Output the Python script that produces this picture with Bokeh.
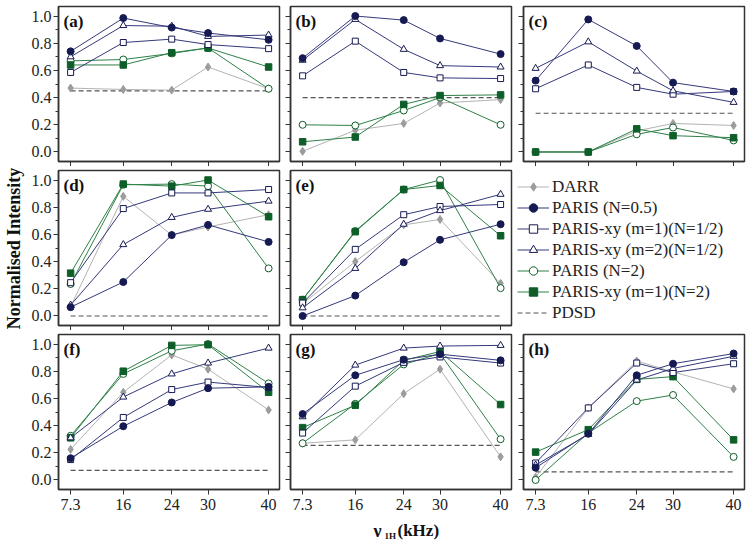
import math
from bokeh.plotting import figure
from bokeh.models import Range1d, FixedTicker, Legend, LegendItem, Label, PrintfTickFormatter
from bokeh.layouts import row, column
from bokeh.embed import file_html
from bokeh.resources import INLINE

# ---------------- data ----------------
freq = [7.3, 16, 24, 30, 40]
freq_labels = ["7.3", "16", "24", "30", "40"]
panel_labels = ["(a)", "(b)", "(c)", "(d)", "(e)", "(f)", "(g)", "(h)"]
y_ticks = [0.0, 0.2, 0.4, 0.6, 0.8, 1.0]
y_minor = [0.1, 0.3, 0.5, 0.7, 0.9]

# one row of five values per panel (a)..(h)
darr = [
    [0.47, 0.46, 0.455, 0.625, 0.465],
    [0.005, 0.16, 0.21, 0.36, 0.385],
    [0.0, 0.0, 0.155, 0.21, 0.195],
    [0.07, 0.88, 0.595, 0.655, 0.745],
    [0.09, 0.40, 0.67, 0.71, 0.24],
    [0.225, 0.645, 0.92, 0.815, 0.515],
    [0.27, 0.295, 0.635, 0.815, 0.17],
    [0.02, 0.53, 0.875, 0.795, 0.67],
]
paris_05 = [
    [0.74, 0.985, 0.915, 0.875, 0.825],
    [0.69, 1.0, 0.97, 0.835, 0.72],
    [0.525, 0.975, 0.78, 0.51, 0.445],
    [0.065, 0.25, 0.595, 0.67, 0.545],
    [0.0, 0.15, 0.395, 0.56, 0.675],
    [0.16, 0.395, 0.57, 0.675, 0.685],
    [0.485, 0.77, 0.885, 0.925, 0.88],
    [0.09, 0.34, 0.77, 0.855, 0.93],
]
xy_m1_half = [
    [0.585, 0.805, 0.83, 0.79, 0.76],
    [0.56, 0.815, 0.585, 0.545, 0.54],
    [0.465, 0.64, 0.475, 0.425, 0.445],
    [0.245, 0.79, 0.905, 0.905, 0.93],
    [0.095, 0.49, 0.745, 0.805, 0.82],
    [0.15, 0.46, 0.665, 0.72, 0.68],
    [0.345, 0.69, 0.865, 0.905, 0.86],
    [0.125, 0.53, 0.86, 0.79, 0.855],
]
xy_m2_half = [
    [0.70, 0.93, 0.925, 0.85, 0.86],
    [0.675, 0.975, 0.755, 0.635, 0.625],
    [0.615, 0.81, 0.595, 0.45, 0.365],
    [0.08, 0.525, 0.725, 0.785, 0.845],
    [0.06, 0.35, 0.675, 0.775, 0.895],
    [0.31, 0.61, 0.78, 0.86, 0.97],
    [0.465, 0.845, 0.97, 0.985, 0.99],
    [0.11, 0.335, 0.735, 0.82, 0.91],
]
paris_2 = [
    [0.67, 0.68, 0.725, 0.765, 0.465],
    [0.20, 0.195, 0.305, 0.40, 0.20],
    [0.0, 0.0, 0.13, 0.18, 0.085],
    [0.235, 0.965, 0.97, 0.955, 0.35],
    [0.12, 0.625, 0.93, 1.0, 0.205],
    [0.325, 0.78, 0.95, 1.0, 0.71],
    [0.27, 0.56, 0.85, 0.93, 0.30],
    [0.0, 0.345, 0.58, 0.625, 0.17],
]
xy_m1_2 = [
    [0.64, 0.64, 0.73, 0.765, 0.625],
    [0.075, 0.11, 0.35, 0.415, 0.42],
    [0.0, 0.0, 0.17, 0.12, 0.105],
    [0.315, 0.97, 0.955, 1.0, 0.73],
    [0.12, 0.62, 0.93, 0.96, 0.59],
    [0.31, 0.80, 0.99, 0.995, 0.645],
    [0.385, 0.55, 0.88, 0.945, 0.555],
    [0.205, 0.37, 0.74, 0.76, 0.295],
]
pdsd = [0.45, 0.40, 0.285, 0.0, 0.0, 0.07, 0.255, 0.06]

# ---------------- styles ----------------
FONT = "Liberation Serif"
NAVY_L = "#34397a"
NAVY_M = "#161a52"
GREEN_L = "#2f8048"
GREEN_M = "#0e5e29"
GREY_L = "#b3b3b3"
GREY_M = "#9c9c9c"
FRAME = "#333333"

# (legend label, data, marker, size, fill, marker line, line color)
series = [
    ("DARR", darr, "diamond", 8, GREY_M, GREY_M, GREY_L),
    ("PARIS (N=0.5)", paris_05, "circle", 7, NAVY_M, NAVY_M, NAVY_L),
    ("PARIS-xy (m=1)(N=1/2)", xy_m1_half, "square", 6, "white", NAVY_M, NAVY_L),
    ("PARIS-xy (m=2)(N=1/2)", xy_m2_half, "triangle", 7, "white", NAVY_M, NAVY_L),
    ("PARIS (N=2)", paris_2, "circle", 7, "white", GREEN_M, GREEN_L),
    ("PARIS-xy (m=1)(N=2)", xy_m1_2, "square", 6.5, GREEN_M, GREEN_M, GREEN_L),
]
draw_order = [0, 4, 5, 2, 3, 1]

FW, FH = 221, 155


def make_panel(i, col, rw):
    left = 29 if col == 0 else 6
    right = 5 if col == 0 else (6 if col == 1 else 4)
    top = 6 if rw == 0 else 4
    bottom = 27 if rw == 2 else 5
    p = figure(frame_width=FW, frame_height=FH,
               min_border_left=left, min_border_right=right,
               min_border_top=top, min_border_bottom=bottom,
               x_range=Range1d(5.3, 41.8), y_range=Range1d(-0.07, 1.07),
               output_backend="svg", toolbar_location=None)
    p.outline_line_color = FRAME
    p.outline_line_width = 1.5
    p.grid.visible = False
    p.background_fill_color = "white"
    p.border_fill_color = "white"

    xa = p.xaxis[0]
    xa.ticker = FixedTicker(ticks=freq)
    xa.major_label_overrides = {f: l for f, l in zip(freq, freq_labels)}
    xa.major_tick_in = 0
    xa.major_tick_out = 5
    xa.major_label_standoff = 4
    ya = p.yaxis[0]
    ya.ticker = FixedTicker(ticks=y_ticks, minor_ticks=y_minor)
    ya.formatter = PrintfTickFormatter(format="%.1f")
    ya.major_tick_in = 0
    ya.major_tick_out = 5
    ya.minor_tick_in = 0
    ya.minor_tick_out = 3
    ya.major_label_standoff = 2
    for ax in (xa, ya):
        ax.axis_line_color = FRAME
        ax.axis_line_width = 1.5
        ax.major_tick_line_color = FRAME
        ax.minor_tick_line_color = FRAME if ax is ya else None
        ax.major_label_text_font = FONT
        ax.major_label_text_font_size = "16px"
        ax.major_label_text_color = "#222222"
    if rw != 2:
        xa.major_label_text_font_size = "0px"
        xa.major_label_text_color = None
        xa.major_label_standoff = 0
    if col != 0:
        ya.major_label_text_font_size = "0px"
        ya.major_label_text_color = None
        ya.major_label_standoff = 0

    renderers = {}
    pd_r = p.line([freq[0], freq[-1]], [pdsd[i], pdsd[i]], line_color="#555555",
                  line_dash="5 3", line_width=1.2)
    for k in draw_order:
        name, data, marker, size, fill, mline, lcol = series[k]
        lr = p.line(freq, data[i], line_color=lcol, line_width=1)
        sr = p.scatter(freq, data[i], marker=marker, size=size, fill_color=fill,
                       line_color=mline, line_width=1)
        renderers[k] = (lr, sr)

    p.add_layout(Label(x=5, y=FH - 5, x_units="screen", y_units="screen",
                       text=panel_labels[i], text_font=FONT, text_font_style="bold",
                       text_font_size="17px", text_baseline="top", text_color="#111111"))
    return p, renderers, pd_r


figs = []
layout_pos = [(0, 0), (1, 0), (2, 0), (0, 1), (1, 1), (0, 2), (1, 2), (2, 2)]
legend_src = None
for i, (c, r) in enumerate(layout_pos):
    p, rend, pd_r = make_panel(i, c, r)
    figs.append(p)
    if i == 4:
        legend_src = (p, rend, pd_r)

pe, rend, pd_r = legend_src
items = [LegendItem(label=series[k][0], renderers=list(rend[k])) for k in range(6)]
items.append(LegendItem(label="PDSD", renderers=[pd_r]))
legend = Legend(items=items, location="top_left", margin=6, padding=8,
                spacing=0, glyph_width=32, glyph_height=21, label_height=21,
                label_standoff=3, label_text_font=FONT, label_text_font_size="17px",
                label_text_color="#222222", border_line_color=None,
                background_fill_alpha=0)
pe.add_layout(legend, "right")

TOTAL_H = 544
# y-axis title strip
yfig = figure(frame_width=28, frame_height=TOTAL_H, min_border=0,
              x_axis_type=None, y_axis_type=None, output_backend="svg",
              toolbar_location=None, x_range=Range1d(0, 1), y_range=Range1d(0, 1))
yfig.outline_line_color = None
yfig.grid.visible = False
yfig.add_layout(Label(x=13, y=TOTAL_H - 248, x_units="screen", y_units="screen",
                      text="Normalised Intensity", angle=math.pi / 2,
                      text_align="center", text_baseline="middle", text_font=FONT,
                      text_font_style="bold", text_font_size="18px", text_color="#111111"))

# x-axis title strip
xfig = figure(frame_width=719, frame_height=28, min_border=0,
              x_axis_type=None, y_axis_type=None, output_backend="svg",
              toolbar_location=None, x_range=Range1d(0, 1), y_range=Range1d(0, 1))
xfig.outline_line_color = None
xfig.grid.visible = False
x0 = 345
xfig.add_layout(Label(x=x0, y=14, x_units="screen", y_units="screen", text="ν",
                      text_font=FONT, text_font_style="bold", text_font_size="18px",
                      text_baseline="middle", text_color="#111111"))
xfig.add_layout(Label(x=x0 + 11, y=9, x_units="screen", y_units="screen", text="1H",
                      text_font=FONT, text_font_style="bold", text_font_size="9px",
                      text_baseline="middle", text_color="#111111"))
xfig.add_layout(Label(x=x0 + 24, y=14, x_units="screen", y_units="screen", text="(kHz)",
                      text_font=FONT, text_font_style="bold", text_font_size="17px",
                      text_baseline="middle", text_color="#111111"))

row1 = row(figs[0], figs[1], figs[2])
row2 = row(figs[3], figs[4])
row3 = row(figs[5], figs[6], figs[7])
layout = row(yfig, column(row1, row2, row3, xfig))

open("out.html", "w").write(file_html(layout, INLINE, title="Normalised Intensity"))
